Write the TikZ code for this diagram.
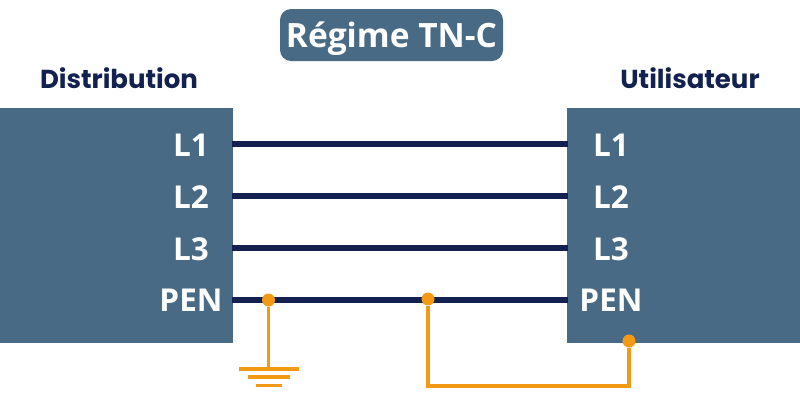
\documentclass[tikz,border=0pt]{standalone}
\usepackage{fontspec}
\setmainfont{Open Sans}
\newfontfamily\popp{Poppins}
\definecolor{slateb}{HTML}{486A85}
\definecolor{navyl}{HTML}{12214F}
\definecolor{orng}{HTML}{F29A16}
\tikzset{
  x=1pt,y=-1pt,
  block/.style={fill=slateb,draw=none,inner sep=0,minimum height=235pt},
  lab/.style={text=white,font=\bfseries\fontsize{31.5}{31.5}\selectfont,inner sep=0,anchor=base},
  head/.style={text=navyl,font=\popp\bfseries\fontsize{26}{26}\selectfont,inner sep=0,anchor=base},
  wire/.style={draw=navyl,line width=6pt},
  earthw/.style={draw=orng,line width=3.2pt},
  dotn/.style={circle,fill=orng,inner sep=0,minimum size=13pt},
}
\begin{document}
\begin{tikzpicture}
\useasboundingbox (0,0) rectangle (800,400);
\fill[white] (0,0) rectangle (800,400);
\node[block,anchor=north west,minimum width=232.5pt] (D) at (0,108) {};
\node[block,anchor=north west,minimum width=233pt] (U) at (567,108) {};
\node[fill=slateb,rounded corners=11pt,minimum width=223pt,minimum height=52pt,inner sep=0] (T) at (391.5,35) {};
\node[lab,font=\bfseries\fontsize{33.5}{33.5}\selectfont] (Tt) at (391.5,47) {Régime TN-C};
\node[head] (hd) at (119,88.5) {Distribution};
\node[head] (hu) at (690,88.5) {Utilisateur};
\node[lab] (a1) at (191,156) {L1};
\node[lab] (a2) at (191,208) {L2};
\node[lab] (a3) at (191,260) {L3};
\node[lab] (a4) at (191,311) {PEN};
\node[lab] (b1) at (611,156) {L1};
\node[lab] (b2) at (611,208) {L2};
\node[lab] (b3) at (611,260) {L3};
\node[lab] (b4) at (611,311) {PEN};
\coordinate (p1) at (232,144); \coordinate (q1) at (568,144);
\coordinate (p2) at (232,196); \coordinate (q2) at (568,196);
\coordinate (p3) at (232,248); \coordinate (q3) at (568,248);
\coordinate (p4) at (232,299.5); \coordinate (q4) at (568,299.5);
\draw[wire] (p1) -- (q1);
\draw[wire] (p2) -- (q2);
\draw[wire] (p3) -- (q3);
\draw[wire] (p4) -- (q4);
\node[dotn] (e1) at (268.5,300) {};
\node[dotn] (e2) at (428,299) {};
\node[dotn] (e3) at (629,341) {};
\coordinate (g) at (268.5,369);
\draw[earthw] (e1) -- (g);
\draw[earthw] (e2) |- (e3 |- 0,386) -- (e3);
\draw[earthw] (239,369) -- (298.5,369);
\draw[earthw] (248,377) -- (289.5,377);
\draw[earthw] (256,385.5) -- (281.5,385.5);
\end{tikzpicture}
\end{document}
